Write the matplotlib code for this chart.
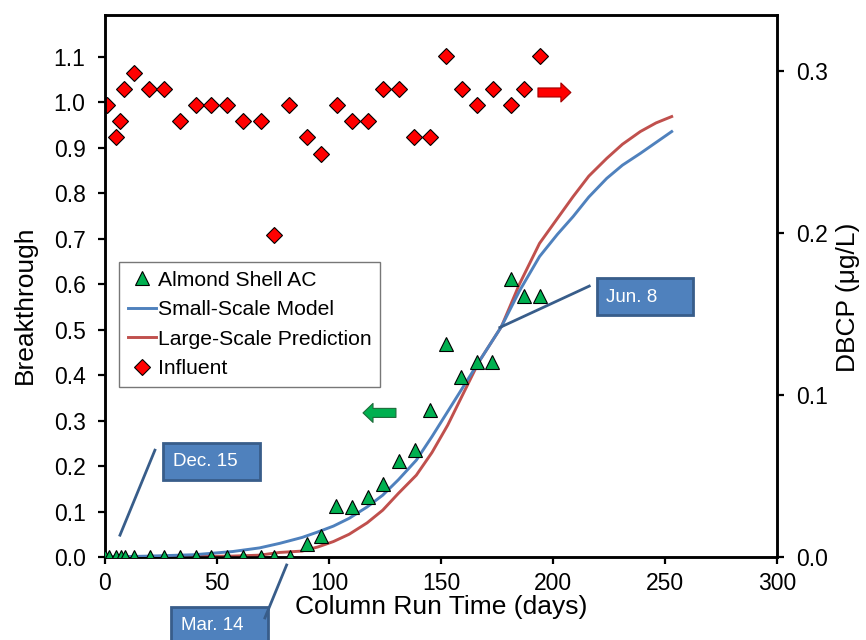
import matplotlib.pyplot as plt
from matplotlib.patches import Rectangle

plt.rcParams['font.family'] = ['Liberation Sans', 'DejaVu Sans']

# Almond Shell AC breakthrough (C/C0)
ac_days = [0, 2, 5, 7, 9, 13, 20, 26.5, 33.5, 40.5, 47.5, 54.5, 61.5, 69.5, 75.5, 82.5,
           90.3, 96.3, 103.1, 110.1, 117.3, 124.3, 131.3, 138.3, 145.2, 152.2, 159.1,
           166.2, 173, 181.1, 187.2, 194.2]
ac_bt = [0, 0, 0, 0, 0, 0, 0, 0, 0, 0, 0, 0, 0, 0, 0, 0,
         0.028, 0.046, 0.113, 0.110, 0.132, 0.161, 0.211, 0.235, 0.323, 0.468, 0.395,
         0.430, 0.430, 0.611, 0.575, 0.575]

# model curves
model_days = [0, 20, 40, 57, 69, 78, 88, 95, 102, 109, 117, 124, 131, 139, 146, 153, 160,
              167, 177, 185, 194, 202, 209, 216, 224, 231, 239, 246, 253]
small_scale = [0.0, 0.002, 0.005, 0.012, 0.02, 0.03, 0.043, 0.055, 0.068, 0.085, 0.11,
               0.136, 0.17, 0.213, 0.265, 0.32, 0.375, 0.43, 0.507, 0.585, 0.661, 0.71,
               0.749, 0.792, 0.833, 0.862, 0.888, 0.912, 0.936]
large_scale = [0.0, 0.0, 0.001, 0.002, 0.004, 0.01, 0.013, 0.022, 0.034, 0.05, 0.075,
               0.103, 0.14, 0.18, 0.23, 0.29, 0.36, 0.43, 0.507, 0.6, 0.69, 0.745, 0.793,
               0.838, 0.877, 0.908, 0.936, 0.955, 0.969]

# influent DBCP (ug/L)
inf_days = [0, 1, 4.8, 6.7, 8.6, 12.9, 19.6, 26.5, 33.5, 40.6, 47.5, 54.5, 61.6, 69.5,
            75.4, 82.3, 90.3, 96.4, 103.4, 110.4, 117.3, 124.3, 131.3, 138.1, 145.1,
            152.1, 159.2, 166.2, 173.2, 181.3, 187, 194.2]
inf_dbcp = [0.279, 0.279, 0.259, 0.269, 0.289, 0.299, 0.289, 0.289, 0.269, 0.279, 0.279,
            0.279, 0.269, 0.269, 0.199, 0.279, 0.259, 0.249, 0.279, 0.269, 0.269, 0.289,
            0.289, 0.259, 0.259, 0.309, 0.289, 0.279, 0.289, 0.279, 0.289, 0.309]

blue = '#4F81BD'
red = '#C0504D'
green = '#00B050'

fig = plt.figure(figsize=(8.66, 6.4), dpi=100)
ax = fig.add_axes([0.1212, 0.1297, 0.776, 0.8469])
ax2 = ax.twinx()

l1, = ax.plot(ac_days, ac_bt, linestyle='none', marker='^', ms=10.5, mfc=green,
              mec='black', mew=0.8, label='Almond Shell AC', zorder=4)
l2, = ax.plot(model_days, small_scale, color=blue, lw=2.1, label='Small-Scale Model', zorder=3)
l3, = ax.plot(model_days, large_scale, color=red, lw=2.1, label='Large-Scale Prediction', zorder=2)
l4, = ax2.plot(inf_days, inf_dbcp, linestyle='none', marker='D', ms=8, mfc='#FF0000',
               mec='black', mew=0.8, label='Influent')

ax.set_xlim(0, 300)
ax.set_ylim(0, 1.1925)
ax2.set_ylim(0, 0.3346)
ax.set_xticks([0, 50, 100, 150, 200, 250, 300])
ax.set_yticks([0.0, 0.1, 0.2, 0.3, 0.4, 0.5, 0.6, 0.7, 0.8, 0.9, 1.0, 1.1])
ax2.set_yticks([0.0, 0.1, 0.2, 0.3])
ax.yaxis.set_major_formatter(plt.FormatStrFormatter('%.1f'))
ax2.yaxis.set_major_formatter(plt.FormatStrFormatter('%.1f'))

for a in (ax, ax2):
    a.tick_params(direction='out', length=5, width=1.6, labelsize=16.5, pad=9)
    for s in a.spines.values():
        s.set_linewidth(1.8)
ax.tick_params(axis='x', pad=6)

ax.set_xlabel('Column Run Time (days)', fontsize=19, labelpad=0)
ax.set_ylabel('Breakthrough', fontsize=19)
ax2.set_ylabel('DBCP (\u03bcg/L)', fontsize=19)
ax.yaxis.set_label_coords(-0.102, 0.465)
ax2.yaxis.set_label_coords(1.088, 0.48)

leg = ax.legend(handles=[l1, l2, l3, l4], loc='upper left', bbox_to_anchor=(0.021, 0.544),
                fontsize=15.2, frameon=True, fancybox=False, handlelength=1.35,
                handletextpad=0.1, borderpad=0.4, labelspacing=0.5, borderaxespad=0)
leg.get_frame().set_edgecolor('#555555')
leg.get_frame().set_linewidth(1.0)
ax.set_zorder(ax2.get_zorder() + 1)
ax.patch.set_visible(False)

# direction arrows
ax.annotate('', xy=(208, 1.022), xytext=(193.3, 1.022),
            arrowprops=dict(arrowstyle='simple,head_length=0.72,head_width=1.37,tail_width=0.65',
                            fc='#FF0000', ec='#A00000', lw=0.8, mutation_scale=10,
                            shrinkA=0, shrinkB=0))
ax.annotate('', xy=(115.2, 0.317), xytext=(129.9, 0.317),
            arrowprops=dict(arrowstyle='simple,head_length=0.72,head_width=1.37,tail_width=0.65',
                            fc=green, ec='#1E6B3A', lw=0.8, mutation_scale=10,
                            shrinkA=0, shrinkB=0))

# date callouts
callouts = [('Dec. 15', (25.9, 0.169), 30.2, 0.21, (22.3, 0.235), (6.7, 0.048)),
            ('Mar. 14', (29.5, -0.19), 33.9, -0.15, (71.4, -0.134), (81.1, -0.0176)),
            ('Jun. 8', (219.5, 0.532), 223.7, 0.572, (216.2, 0.596), (176.3, 0.505))]
for label, (bx, by), tx, ty, p0, p1 in callouts:
    ax.add_patch(Rectangle((bx, by), 43.2, 0.081, facecolor=blue, edgecolor='#385D8A',
                           lw=2, clip_on=False, zorder=6))
    ax.text(tx, ty, label, color='white', fontsize=13.5, va='center', ha='left',
            clip_on=False, zorder=7)
    ax.plot([p0[0], p1[0]], [p0[1], p1[1]], color='#385D8A', lw=2, clip_on=False, zorder=6)

fig.savefig('out.png', dpi=100)
